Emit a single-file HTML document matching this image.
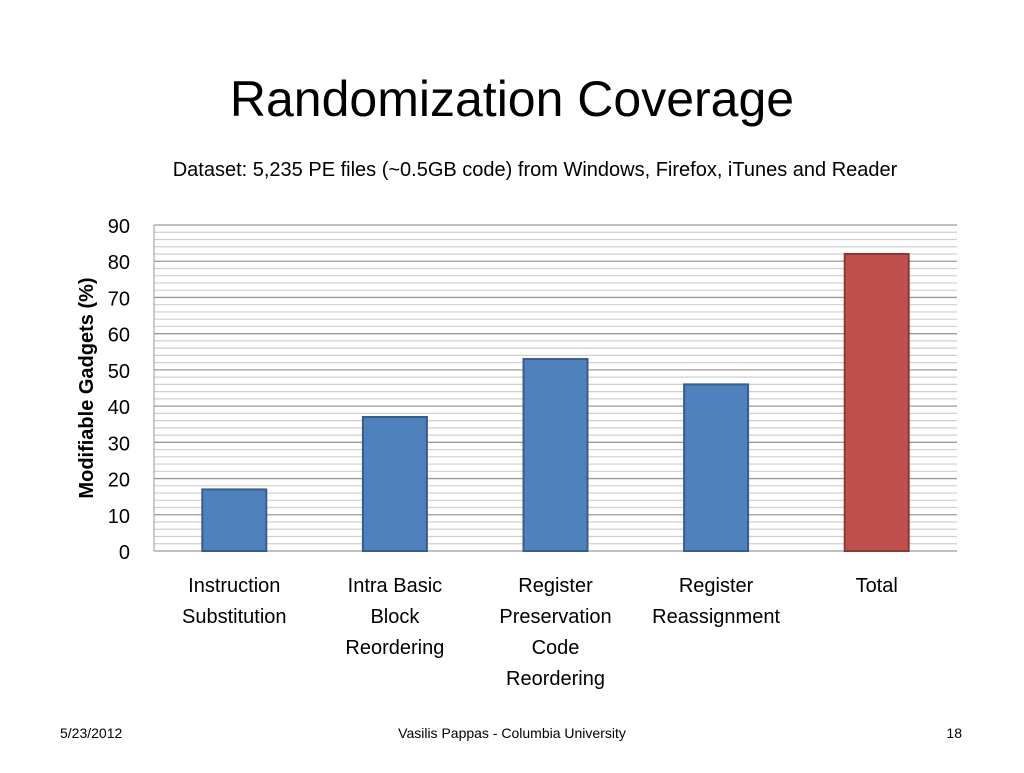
<!DOCTYPE html>
<html><head><meta charset="utf-8"><style>
body{margin:0;width:1024px;height:768px;background:#fff;font-family:"Liberation Sans",sans-serif;overflow:hidden}
</style></head><body>
<svg width="1024" height="768" font-family="Liberation Sans, sans-serif">
<text x="512" y="116" text-anchor="middle" font-size="50" fill="#000">Randomization Coverage</text>
<text x="535" y="176" text-anchor="middle" font-size="20" fill="#000">Dataset: 5,235 PE files (~0.5GB code) from Windows, Firefox, iTunes and Reader</text>
<g id="grid"></g>
<g id="bars"></g>
<g id="yt"></g>
<g id="xt"></g>
<text transform="translate(93,388) rotate(-90)" text-anchor="middle" font-size="20" font-weight="bold">Modifiable Gadgets (%)</text>
<text x="60" y="738" font-size="14">5/23/2012</text>
<text x="512" y="738" text-anchor="middle" font-size="14">Vasilis Pappas - Columbia University</text>
<text x="962" y="738" text-anchor="end" font-size="14">18</text>
</svg>
<script>
const categories=[["Instruction","Substitution"],["Intra Basic","Block","Reordering"],["Register","Preservation","Code","Reordering"],["Register","Reassignment"],["Total"]];
const values=[17,37,53,46,82];
const yTicks=[0,10,20,30,40,50,60,70,80,90];
const NS="http://www.w3.org/2000/svg";
const L=154,R=957,T=225,B=551,yMax=90;
const y=v=>B-(v/yMax)*(B-T);
const bw=(R-L)/categories.length;
const xc=i=>L+bw*(i+0.5);
function mk(t,a,p){const e=document.createElementNS(NS,t);for(const k in a)e.setAttribute(k,a[k]);p.appendChild(e);return e;}
const g=document.getElementById('grid');
for(let v=0;v<=yMax;v+=2){const ln=mk('line',{x1:L,x2:R,y1:y(v),y2:y(v),stroke:v%10==0?'#9a9a9a':'#cfcfcf','stroke-width':v%10==0?1.3:1.2},g);

}
const ax=mk('line',{x1:L,x2:L,y1:T,y2:B,stroke:'#999'},g);


const bg=document.getElementById('bars');
values.forEach((v,i)=>{const last=i==values.length-1;
const r=mk('rect',{x:xc(i)-32,y:y(v),width:64,height:B-y(v),fill:last?'#c0504d':'#4f81bd',stroke:last?'#8c3836':'#385d8a','stroke-width':2},bg);

});
const yt=document.getElementById('yt');
yTicks.forEach(v=>{const t=mk('text',{x:130,y:y(v)+8,'text-anchor':'end','font-size':20},yt);t.textContent=v;

});
const xt=document.getElementById('xt');
categories.forEach((c,i)=>{c.forEach((s,j)=>{const t=mk('text',{x:xc(i),y:592+j*31,'text-anchor':'middle','font-size':20},xt);t.textContent=s;

});});
</script>
</body></html>
